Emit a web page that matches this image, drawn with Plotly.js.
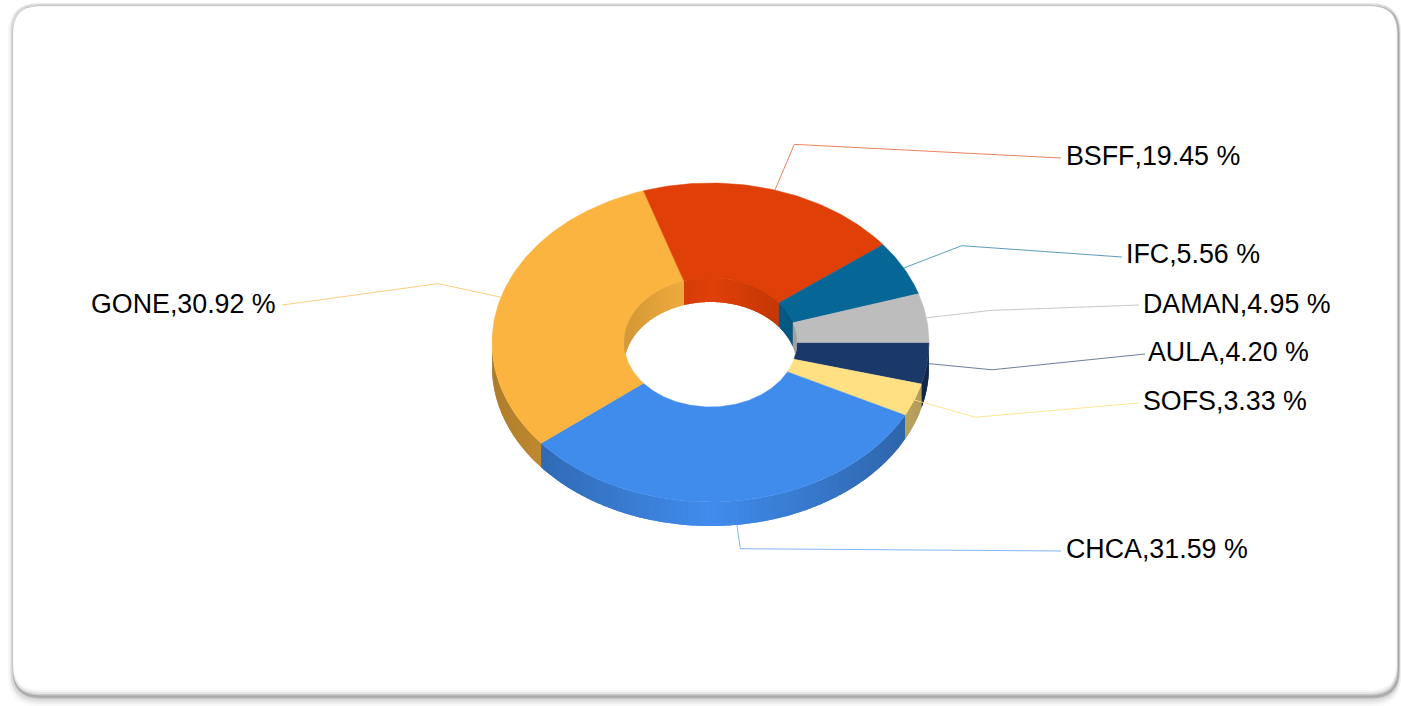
<!DOCTYPE html>
<html>
<head>
<meta charset="utf-8">
<script src="https://cdn.plot.ly/plotly-3.0.1.min.js"></script>
<style>html,body{margin:0;padding:0;background:#fff;overflow:hidden}#chart{width:1401px;height:706px}#chart text{font-kerning:none}</style>
</head>
<body>
<div id="chart"></div>
<script>
// ---- data (clockwise from the 3 o'clock position) ----
const categories = ['AULA', 'SOFS', 'CHCA', 'GONE', 'BSFF', 'IFC', 'DAMAN'];
const shares = [4.20, 3.33, 31.59, 30.92, 19.45, 5.56, 4.95];

// ---- styles and layout ----
const colors = ['#1a3869', '#ffe082', '#408ced', '#fbb440', '#e04008', '#066695', '#bdbdbd'];
const labelX = [1148, 1143, 1066, 91, 1066, 1126, 1143];
const labelY = [354, 403, 551, 306, 158, 256, 306];
const leaderEndX = [1145, 1139, 1061, 282, 1061, 1122, 1139];
const leaderEndY = [354, 403, 551, 305, 158, 257, 305];
const W = 1401, H = 706;
const cx = 710.5, cy = 342.5, rx = 218.5, ry = 159.5, irx = 86.5, iry = 64.5, depth = 24, elbow = 1.3;
const FONT = '"Liberation Sans", Arial, sans-serif';

const rgb = c => [1, 3, 5].map(i => parseInt(c.substr(i, 2), 16));
const shade = (c, f) => 'rgb(' + rgb(c).map(v => Math.round(v * f)).join(',') + ')';
const rad = d => d * Math.PI / 180;

function poly(xs, ys, color) {
  return {x: xs, y: ys, type: 'scatter', mode: 'lines', fill: 'toself', fillcolor: color,
          line: {color: color, width: 0.5}, hoverinfo: 'skip', showlegend: false};
}
function flat(xs, ys, color) {
  return {x: xs, y: ys, type: 'scatter', mode: 'none', fill: 'toself', fillcolor: color,
          hoverinfo: 'skip', showlegend: false};
}

const total = shares.reduce((a, b) => a + b, 0);
let acc = 0;
const slices = shares.map((v, i) => {
  const a0 = acc / total * 360; acc += v; const a1 = acc / total * 360;
  return {a0, a1, mid: (a0 + a1) / 2, color: colors[i]};
});
function span(a0, a1, step) {
  const out = [], n = Math.max(1, Math.ceil((a1 - a0) / step));
  for (let k = 0; k <= n; k++) out.push(a0 + (a1 - a0) * k / n);
  return out;
}
const traces = [];

// outer wall, visible on the near half only; each strip overlaps the next so no seam shows
slices.forEach(s => {
  const lo = s.a0, hi = Math.min(s.a1, 180);
  if (hi <= lo) return;
  const ts = span(lo, hi, 1.5);
  for (let k = 0; k < ts.length - 1; k++) {
    const a = ts[k], b = Math.min(ts[k + 1] + 1.5, hi), m = rad((ts[k] + ts[k + 1]) / 2);
    const arc = span(a, b, 0.5);
    const xs = arc.map(t => cx + rx * Math.cos(rad(t)));
    const ys = arc.map(t => cy + ry * Math.sin(rad(t)));
    arc.slice().reverse().forEach(t => {
      xs.push(cx + rx * Math.cos(rad(t)));
      ys.push(cy + ry * Math.sin(rad(t)) + depth);
    });
    traces.push(flat(xs, ys, shade(s.color, 1 - 0.31 * Math.abs(Math.cos(m)))));
  }
});

// leader lines sit under the top face
slices.forEach((s, i) => {
  const c = Math.cos(rad(s.mid)), n = Math.sin(rad(s.mid));
  traces.push({
    x: [cx + rx * c, cx + rx * elbow * c, leaderEndX[i]],
    y: [cy + ry * n, cy + ry * elbow * n, leaderEndY[i]],
    type: 'scatter', mode: 'lines', line: {color: s.color, width: 1},
    opacity: i === 1 || i === 6 ? 0.85 : 0.65, hoverinfo: 'skip', showlegend: false
  });
});

// top face
slices.forEach(s => {
  const ts = span(s.a0, s.a1, 1);
  const xs = ts.map(t => cx + rx * Math.cos(rad(t)));
  const ys = ts.map(t => cy + ry * Math.sin(rad(t)));
  ts.slice().reverse().forEach(t => {
    xs.push(cx + irx * Math.cos(rad(t)));
    ys.push(cy + iry * Math.sin(rad(t)));
  });
  xs.push(xs[0]); ys.push(ys[0]);
  traces.push(poly(xs, ys, s.color));
});

// inner wall, visible on the far half of the hole only
slices.forEach(s => {
  const lo = Math.max(s.a0, 180), hi = s.a1;
  if (hi <= lo) return;
  const ts = span(lo, hi, 1.5);
  for (let k = 0; k < ts.length - 1; k++) {
    const a = ts[k], b = Math.min(ts[k + 1] + 1.5, hi), m = rad((ts[k] + ts[k + 1]) / 2);
    const arc = span(a, b, 0.5);
    const xs = arc.map(t => cx + irx * Math.cos(rad(t)));
    const ys = arc.map(t => cy + iry * Math.sin(rad(t)));
    arc.slice().reverse().forEach(t => {
      const n = Math.sin(rad(t));
      xs.push(cx + irx * Math.cos(rad(t)));
      ys.push(Math.min(cy + iry * n + depth, cy - iry * n));
    });
    traces.push(flat(xs, ys, shade(s.color, 1 - 0.16 * Math.abs(Math.cos(m)))));
  }
});

// labels
traces.push({
  x: labelX, y: labelY, type: 'scatter', mode: 'text', textposition: 'middle right',
  text: categories.map((c, i) => c + ',' + shares[i].toFixed(2) + ' %'),
  textfont: {family: FONT, size: 26.8, color: '#000'}, hoverinfo: 'skip', showlegend: false
});

// card
function rr(x0, y0, x1, y1, r) {
  return `M${x0 + r},${y0} L${x1 - r},${y0} Q${x1},${y0} ${x1},${y0 + r} L${x1},${y1 - r} Q${x1},${y1} ${x1 - r},${y1} L${x0 + r},${y1} Q${x0},${y1} ${x0},${y1 - r} L${x0},${y0 + r} Q${x0},${y0} ${x0 + r},${y0} Z`;
}
const shapes = [];
const addRR = (x0, y0, x1, y1, r, fill) => shapes.push({type: 'path', layer: 'below', path: rr(x0, y0, x1, y1, r),
  fillcolor: fill, line: {width: 0}});
addRR(8, 3, 1401, 706, 30, '#f8f8f8');
addRR(9.5, 3, 1401, 704, 30, '#efefef');
addRR(10.5, 3.5, 1400, 702, 29, '#e2e2e2');
addRR(11, 4, 1400, 700, 28, '#d8d8d8');
addRR(12.5, 5.5, 1399.5, 698.5, 28, '#b4b4b4');
addRR(13, 6, 1399, 697, 27, '#a8a8a8');
addRR(13, 6, 1398, 695.5, 27, '#c8c8c8');
addRR(13, 6, 1397, 694, 26, '#e6e6e6');
addRR(13.5, 6.5, 1396.5, 692, 26, '#f6f6f6');
addRR(13.5, 6.5, 1396.5, 690, 26, '#ffffff');

Plotly.newPlot('chart', traces, {
  width: W, height: H, autosize: false,
  margin: {l: 0, r: 0, t: 0, b: 0, pad: 0},
  paper_bgcolor: '#ffffff', plot_bgcolor: 'rgba(0,0,0,0)',
  xaxis: {range: [0, W], visible: false, fixedrange: true},
  yaxis: {range: [H, 0], visible: false, fixedrange: true},
  showlegend: false, shapes: shapes, hovermode: false
}, {displayModeBar: false, staticPlot: true});
</script>
</body>
</html>
